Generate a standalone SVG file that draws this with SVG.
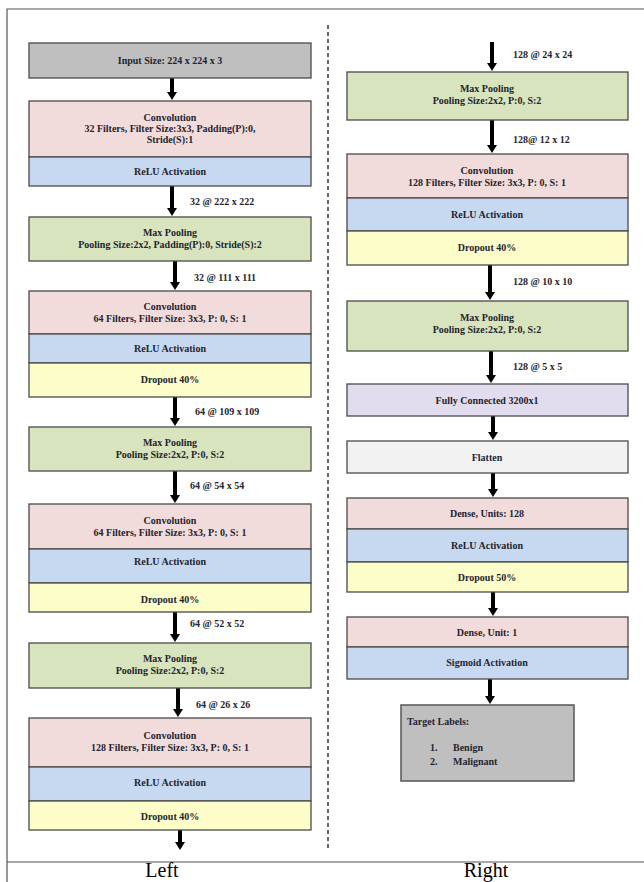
<svg xmlns="http://www.w3.org/2000/svg" width="644" height="882" viewBox="0 0 644 882">
<defs>
<marker id="ah" markerUnits="userSpaceOnUse" markerWidth="8" markerHeight="10" refX="1" refY="5" orient="auto" viewBox="0 0 8 10">
<path d="M0,0 L8,5 L0,10 Z" fill="#000"/>
</marker>
</defs>
<style>
text{font-family:"Liberation Serif","Times New Roman",serif;font-weight:bold;font-size:10px;fill:#24242e}
.c{text-anchor:middle}
.b{stroke:#4a4a4a;stroke-width:1.3}
.gray{fill:#bfbfbf}
.pink{fill:#f2dcdb}
.blue{fill:#c6d9f0}
.green{fill:#d7e4bd}
.yellow{fill:#fdfdc9}
.purple{fill:#e1dcee}
.light{fill:#f2f2f2}
.ar{stroke:#000;stroke-width:4;fill:none;marker-end:url(#ah)}
.cap{font-weight:normal;font-size:20px;fill:#000;text-anchor:middle}
</style>
<rect width="644" height="882" fill="#fff"/>
<g id="frame" fill="none" stroke="#555" stroke-width="1.2">
<path d="M7,882 V9 H644"/>
<path d="M7,862 H644"/>
<line x1="328" y1="25" x2="328" y2="850" stroke="#333" stroke-width="1.5" stroke-dasharray="4,3"/>
</g>
<g id="connectors">
<line class="ar" x1="172" y1="78" x2="172" y2="93"/>
<line class="ar" x1="172" y1="186" x2="172" y2="209"/>
<line class="ar" x1="175" y1="261" x2="175" y2="283"/>
<line class="ar" x1="175" y1="397" x2="175" y2="419"/>
<line class="ar" x1="175" y1="471" x2="175" y2="496"/>
<line class="ar" x1="175" y1="612" x2="175" y2="635"/>
<line class="ar" x1="178" y1="688" x2="178" y2="710"/>
<line class="ar" x1="180" y1="830" x2="180" y2="843"/>
<line class="ar" x1="492" y1="42" x2="492" y2="64"/>
<line class="ar" x1="492" y1="120" x2="492" y2="146"/>
<line class="ar" x1="490" y1="265" x2="490" y2="293"/>
<line class="ar" x1="491" y1="351" x2="491" y2="376"/>
<line class="ar" x1="493" y1="416" x2="493" y2="433"/>
<line class="ar" x1="493" y1="473" x2="493" y2="490"/>
<line class="ar" x1="493" y1="592" x2="493" y2="609"/>
<line class="ar" x1="490" y1="679" x2="490" y2="697"/>
</g>
<g id="edge-labels">
<text x="190" y="205">32 @ 222 x 222</text>
<text x="194" y="281">32 @ 111 x 111</text>
<text x="195" y="415">64 @ 109 x 109</text>
<text x="190" y="489">64 @ 54 x 54</text>
<text x="190" y="627">64 @ 52 x 52</text>
<text x="196" y="708">64 @ 26 x 26</text>
<text x="513" y="58">128 @ 24 x 24</text>
<text x="513" y="143">128@ 12 x 12</text>
<text x="513" y="285">128 @ 10 x 10</text>
<text x="513" y="370">128 @ 5 x 5</text>
</g>
<g id="input">
<rect class="b gray" x="29" y="43" width="282" height="35"/>
<text class="c" x="170" y="64">Input Size: 224 x 224 x 3</text>
</g>
<g id="conv1">
<rect class="b pink" x="29" y="101" width="282" height="56"/>
<text class="c" x="170" y="121">Convolution</text>
<text class="c" x="170" y="132">32 Filters, Filter Size:3x3, Padding(P):0,</text>
<text class="c" x="170" y="143">Stride(S):1</text>
<rect class="b blue" x="29" y="157" width="282" height="29"/>
<text class="c" x="170" y="175">ReLU Activation</text>
</g>
<g id="pool1">
<rect class="b green" x="29" y="217" width="282" height="44"/>
<text class="c" x="170" y="236">Max Pooling</text>
<text class="c" x="170" y="248">Pooling Size:2x2, Padding(P):0, Stride(S):2</text>
</g>
<g id="conv2">
<rect class="b pink" x="29" y="291" width="282" height="43"/>
<text class="c" x="170" y="310">Convolution</text>
<text class="c" x="170" y="322">64 Filters, Filter Size: 3x3, P: 0, S: 1</text>
<rect class="b blue" x="29" y="334" width="282" height="29"/>
<text class="c" x="170" y="352">ReLU Activation</text>
<rect class="b yellow" x="29" y="363" width="282" height="34"/>
<text class="c" x="170" y="383">Dropout 40%</text>
</g>
<g id="pool2">
<rect class="b green" x="29" y="427" width="282" height="44"/>
<text class="c" x="170" y="446">Max Pooling</text>
<text class="c" x="170" y="458">Pooling Size:2x2, P:0, S:2</text>
</g>
<g id="conv3">
<rect class="b pink" x="29" y="504" width="282" height="45"/>
<text class="c" x="170" y="524">Convolution</text>
<text class="c" x="170" y="536">64 Filters, Filter Size: 3x3, P: 0, S: 1</text>
<rect class="b blue" x="29" y="549" width="282" height="34"/>
<text class="c" x="170" y="565">ReLU Activation</text>
<rect class="b yellow" x="29" y="583" width="282" height="29"/>
<text class="c" x="170" y="603">Dropout 40%</text>
</g>
<g id="pool3">
<rect class="b green" x="29" y="643" width="282" height="45"/>
<text class="c" x="170" y="662">Max Pooling</text>
<text class="c" x="170" y="674">Pooling Size:2x2, P:0, S:2</text>
</g>
<g id="conv4">
<rect class="b pink" x="29" y="718" width="282" height="49"/>
<text class="c" x="170" y="739">Convolution</text>
<text class="c" x="170" y="751">128 Filters, Filter Size: 3x3, P: 0, S: 1</text>
<rect class="b blue" x="29" y="767" width="282" height="34"/>
<text class="c" x="170" y="786">ReLU Activation</text>
<rect class="b yellow" x="29" y="801" width="282" height="29"/>
<text class="c" x="170" y="820">Dropout 40%</text>
</g>
<g id="pool4">
<rect class="b green" x="347" y="72" width="281" height="48"/>
<text class="c" x="487" y="92">Max Pooling</text>
<text class="c" x="487" y="104">Pooling Size:2x2, P:0, S:2</text>
</g>
<g id="conv5">
<rect class="b pink" x="347" y="154" width="281" height="44"/>
<text class="c" x="487" y="174">Convolution</text>
<text class="c" x="487" y="186">128 Filters, Filter Size: 3x3, P: 0, S: 1</text>
<rect class="b blue" x="347" y="198" width="281" height="33"/>
<text class="c" x="487" y="218">ReLU Activation</text>
<rect class="b yellow" x="347" y="231" width="281" height="34"/>
<text class="c" x="487" y="251">Dropout 40%</text>
</g>
<g id="pool5">
<rect class="b green" x="347" y="301" width="281" height="50"/>
<text class="c" x="487" y="321">Max Pooling</text>
<text class="c" x="487" y="333">Pooling Size:2x2, P:0, S:2</text>
</g>
<g id="fc">
<rect class="b purple" x="347" y="384" width="281" height="32"/>
<text class="c" x="487" y="404">Fully Connected 3200x1</text>
</g>
<g id="flatten">
<rect class="b light" x="347" y="441" width="281" height="32"/>
<text class="c" x="487" y="461">Flatten</text>
</g>
<g id="dense128">
<rect class="b pink" x="347" y="498" width="281" height="31"/>
<text class="c" x="487" y="517">Dense, Units: 128</text>
<rect class="b blue" x="347" y="529" width="281" height="33"/>
<text class="c" x="487" y="549">ReLU Activation</text>
<rect class="b yellow" x="347" y="562" width="281" height="30"/>
<text class="c" x="487" y="581">Dropout 50%</text>
</g>
<g id="dense1">
<rect class="b pink" x="347" y="617" width="281" height="30"/>
<text class="c" x="487" y="636">Dense, Unit: 1</text>
<rect class="b blue" x="347" y="647" width="281" height="32"/>
<text class="c" x="487" y="666">Sigmoid Activation</text>
</g>
<g id="target">
<rect x="401" y="705" width="173" height="76" fill="#bfbfbf" stroke="#555" stroke-width="1.5"/>
<text x="407" y="725">Target Labels:</text>
<text x="430" y="751">1.</text>
<text x="453" y="751">Benign</text>
<text x="430" y="765">2.</text>
<text x="453" y="765">Malignant</text>
</g>
<g id="captions">
<text class="cap" x="162" y="877">Left</text>
<text class="cap" x="486" y="877">Right</text>
</g>
</svg>
